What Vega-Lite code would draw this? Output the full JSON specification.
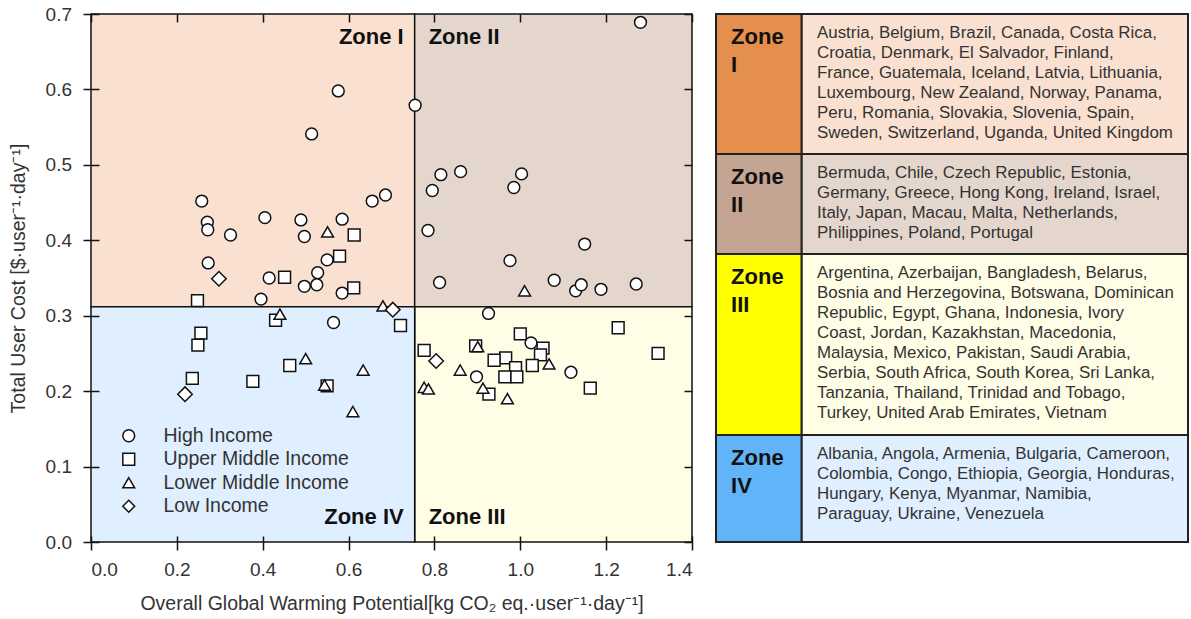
{
  "$schema": "https://vega.github.io/schema/vega-lite/v6.json",
  "background": "white",
  "padding": {"left": 8, "top": 5, "right": 3, "bottom": 5},
  "spacing": 22,
  "config": {"font": "Liberation Sans", "view": {"stroke": null}},
  "datasets": {
    "zones": [
      {"zone": "Zone I", "gwpMin": 0, "gwpMax": 0.754, "costMin": 0.312, "costMax": 0.7, "side": "left", "labelCost": 0.669, "rowStart": 0, "rowEnd": 7, "label": ["Zone", "I"],
       "countries": ["Austria, Belgium, Brazil, Canada, Costa Rica,", "Croatia, Denmark, El Salvador, Finland,", "France, Guatemala, Iceland, Latvia, Lithuania,", "Luxembourg, New Zealand, Norway, Panama,", "Peru, Romania, Slovakia, Slovenia, Spain,", "Sweden, Switzerland, Uganda, United Kingdom"]},
      {"zone": "Zone II", "gwpMin": 0.754, "gwpMax": 1.4, "costMin": 0.312, "costMax": 0.7, "side": "right", "labelCost": 0.669, "rowStart": 7, "rowEnd": 12, "label": ["Zone", "II"],
       "countries": ["Bermuda, Chile, Czech Republic, Estonia,", "Germany, Greece, Hong Kong, Ireland, Israel,", "Italy, Japan, Macau, Malta, Netherlands,", "Philippines, Poland, Portugal"]},
      {"zone": "Zone III", "gwpMin": 0.754, "gwpMax": 1.4, "costMin": 0, "costMax": 0.312, "side": "right", "labelCost": 0.033, "rowStart": 12, "rowEnd": 21.05, "label": ["Zone", "III"],
       "countries": ["Argentina, Azerbaijan, Bangladesh, Belarus,", "Bosnia and Herzegovina, Botswana, Dominican", "Republic, Egypt, Ghana, Indonesia, Ivory", "Coast, Jordan, Kazakhstan, Macedonia,", "Malaysia, Mexico, Pakistan, Saudi Arabia,", "Serbia, South Africa, South Korea, Sri Lanka,", "Tanzania, Thailand, Trinidad and Tobago,", "Turkey, United Arab Emirates, Vietnam"]},
      {"zone": "Zone IV", "gwpMin": 0, "gwpMax": 0.754, "costMin": 0, "costMax": 0.312, "side": "left", "labelCost": 0.033, "rowStart": 21.05, "rowEnd": 26.4, "label": ["Zone", "IV"],
       "countries": ["Albania, Angola, Armenia, Bulgaria, Cameroon,", "Colombia, Congo, Ethiopia, Georgia, Honduras,", "Hungary, Kenya, Myanmar, Namibia,", "Paraguay, Ukraine, Venezuela"]}
    ],
    "points": [
      {"income": "High Income", "gwp": 0.576, "cost": 0.598},
      {"income": "High Income", "gwp": 0.755, "cost": 0.579},
      {"income": "High Income", "gwp": 0.514, "cost": 0.541},
      {"income": "High Income", "gwp": 0.258, "cost": 0.452},
      {"income": "High Income", "gwp": 0.655, "cost": 0.452},
      {"income": "High Income", "gwp": 0.686, "cost": 0.460},
      {"income": "High Income", "gwp": 0.405, "cost": 0.430},
      {"income": "High Income", "gwp": 0.489, "cost": 0.427},
      {"income": "High Income", "gwp": 0.585, "cost": 0.428},
      {"income": "High Income", "gwp": 0.271, "cost": 0.424},
      {"income": "High Income", "gwp": 0.272, "cost": 0.414},
      {"income": "High Income", "gwp": 0.325, "cost": 0.407},
      {"income": "High Income", "gwp": 0.497, "cost": 0.405},
      {"income": "High Income", "gwp": 0.273, "cost": 0.370},
      {"income": "High Income", "gwp": 0.550, "cost": 0.374},
      {"income": "High Income", "gwp": 0.528, "cost": 0.357},
      {"income": "High Income", "gwp": 0.415, "cost": 0.350},
      {"income": "High Income", "gwp": 0.497, "cost": 0.339},
      {"income": "High Income", "gwp": 0.526, "cost": 0.341},
      {"income": "High Income", "gwp": 0.585, "cost": 0.330},
      {"income": "High Income", "gwp": 0.396, "cost": 0.322},
      {"income": "High Income", "gwp": 0.565, "cost": 0.291},
      {"income": "High Income", "gwp": 1.280, "cost": 0.689},
      {"income": "High Income", "gwp": 0.815, "cost": 0.487},
      {"income": "High Income", "gwp": 0.861, "cost": 0.491},
      {"income": "High Income", "gwp": 0.795, "cost": 0.466},
      {"income": "High Income", "gwp": 1.003, "cost": 0.488},
      {"income": "High Income", "gwp": 0.985, "cost": 0.470},
      {"income": "High Income", "gwp": 0.785, "cost": 0.413},
      {"income": "High Income", "gwp": 1.150, "cost": 0.395},
      {"income": "High Income", "gwp": 0.976, "cost": 0.373},
      {"income": "High Income", "gwp": 0.812, "cost": 0.344},
      {"income": "High Income", "gwp": 1.079, "cost": 0.347},
      {"income": "High Income", "gwp": 1.129, "cost": 0.333},
      {"income": "High Income", "gwp": 1.142, "cost": 0.341},
      {"income": "High Income", "gwp": 1.188, "cost": 0.335},
      {"income": "High Income", "gwp": 1.270, "cost": 0.342},
      {"income": "High Income", "gwp": 0.926, "cost": 0.303},
      {"income": "High Income", "gwp": 1.025, "cost": 0.264},
      {"income": "High Income", "gwp": 0.898, "cost": 0.219},
      {"income": "High Income", "gwp": 1.118, "cost": 0.225},
      {"income": "Upper Middle Income", "gwp": 0.613, "cost": 0.407},
      {"income": "Upper Middle Income", "gwp": 0.579, "cost": 0.379},
      {"income": "Upper Middle Income", "gwp": 0.451, "cost": 0.351},
      {"income": "Upper Middle Income", "gwp": 0.612, "cost": 0.337},
      {"income": "Upper Middle Income", "gwp": 0.248, "cost": 0.320},
      {"income": "Upper Middle Income", "gwp": 0.430, "cost": 0.294},
      {"income": "Upper Middle Income", "gwp": 0.721, "cost": 0.287},
      {"income": "Upper Middle Income", "gwp": 0.256, "cost": 0.277},
      {"income": "Upper Middle Income", "gwp": 0.249, "cost": 0.261},
      {"income": "Upper Middle Income", "gwp": 0.463, "cost": 0.234},
      {"income": "Upper Middle Income", "gwp": 0.236, "cost": 0.217},
      {"income": "Upper Middle Income", "gwp": 0.377, "cost": 0.213},
      {"income": "Upper Middle Income", "gwp": 0.550, "cost": 0.207},
      {"income": "Upper Middle Income", "gwp": 1.228, "cost": 0.284},
      {"income": "Upper Middle Income", "gwp": 1.000, "cost": 0.276},
      {"income": "Upper Middle Income", "gwp": 1.053, "cost": 0.257},
      {"income": "Upper Middle Income", "gwp": 0.896, "cost": 0.260},
      {"income": "Upper Middle Income", "gwp": 1.321, "cost": 0.250},
      {"income": "Upper Middle Income", "gwp": 1.047, "cost": 0.248},
      {"income": "Upper Middle Income", "gwp": 0.776, "cost": 0.254},
      {"income": "Upper Middle Income", "gwp": 0.966, "cost": 0.244},
      {"income": "Upper Middle Income", "gwp": 0.939, "cost": 0.241},
      {"income": "Upper Middle Income", "gwp": 0.989, "cost": 0.231},
      {"income": "Upper Middle Income", "gwp": 1.028, "cost": 0.234},
      {"income": "Upper Middle Income", "gwp": 0.964, "cost": 0.219},
      {"income": "Upper Middle Income", "gwp": 0.992, "cost": 0.219},
      {"income": "Upper Middle Income", "gwp": 0.927, "cost": 0.196},
      {"income": "Upper Middle Income", "gwp": 1.163, "cost": 0.204},
      {"income": "Lower Middle Income", "gwp": 0.551, "cost": 0.411},
      {"income": "Lower Middle Income", "gwp": 0.680, "cost": 0.313},
      {"income": "Lower Middle Income", "gwp": 0.440, "cost": 0.302},
      {"income": "Lower Middle Income", "gwp": 0.500, "cost": 0.243},
      {"income": "Lower Middle Income", "gwp": 0.634, "cost": 0.228},
      {"income": "Lower Middle Income", "gwp": 0.544, "cost": 0.208},
      {"income": "Lower Middle Income", "gwp": 0.610, "cost": 0.173},
      {"income": "Lower Middle Income", "gwp": 1.010, "cost": 0.333},
      {"income": "Lower Middle Income", "gwp": 0.901, "cost": 0.259},
      {"income": "Lower Middle Income", "gwp": 1.067, "cost": 0.236},
      {"income": "Lower Middle Income", "gwp": 0.860, "cost": 0.228},
      {"income": "Lower Middle Income", "gwp": 0.776, "cost": 0.205},
      {"income": "Lower Middle Income", "gwp": 0.786, "cost": 0.203},
      {"income": "Lower Middle Income", "gwp": 0.913, "cost": 0.204},
      {"income": "Lower Middle Income", "gwp": 0.970, "cost": 0.190},
      {"income": "Low Income", "gwp": 0.298, "cost": 0.349},
      {"income": "Low Income", "gwp": 0.703, "cost": 0.308},
      {"income": "Low Income", "gwp": 0.219, "cost": 0.196},
      {"income": "Low Income", "gwp": 0.804, "cost": 0.240}
    ]
  },
  "hconcat": [
    {
      "width": 601,
      "height": 528,
      "resolve": {"axis": {"x": "independent", "y": "independent"}},
      "layer": [
        {
          "data": {"name": "zones"},
          "mark": {"type": "rect", "stroke": "#111", "strokeWidth": 1.5},
          "encoding": {
            "x": {"field": "gwpMin", "type": "quantitative", "scale": {"domain": [0, 1.4], "nice": false, "zero": false},
                  "axis": {"orient": "bottom", "values": [0, 0.2, 0.4, 0.6, 0.8, 1.0, 1.2, 1.4], "format": ".1f", "domain": false, "grid": false, "tickSize": 8, "tickColor": "#111", "tickWidth": 1.5, "labelFontSize": 19, "labelColor": "#333", "labelPadding": 10, "title": "Overall Global Warming Potential[kg CO₂ eq.·user⁻¹·day⁻¹]", "titleFontSize": 19.5, "titleFontWeight": "normal", "titleColor": "#333", "titlePadding": 15, "zindex": 1}},
            "x2": {"field": "gwpMax"},
            "y": {"field": "costMin", "type": "quantitative", "scale": {"domain": [0, 0.7], "nice": false, "zero": false},
                  "axis": {"orient": "left", "values": [0, 0.1, 0.2, 0.3, 0.4, 0.5, 0.6, 0.7], "format": ".1f", "domain": false, "grid": false, "tickSize": 8, "tickColor": "#111", "tickWidth": 1.5, "labelFontSize": 19, "labelColor": "#333", "labelPadding": 11.5, "title": "Total User Cost [$·user⁻¹·day⁻¹]", "titleFontSize": 19.5, "titleFontWeight": "normal", "titleColor": "#333", "titlePadding": 16.8, "zindex": 1}},
            "y2": {"field": "costMax"},
            "fill": {"field": "zone", "type": "nominal", "scale": {"domain": ["Zone I", "Zone II", "Zone III", "Zone IV"], "range": ["#F9E0D0", "#E5D6CD", "#FFFDE6", "#DFEFFF"]}, "legend": null}
          }
        },
        {
          "data": {"name": "zones"},
          "transform": [{"filter": "datum.side == 'left'"}],
          "mark": {"type": "text", "align": "right", "baseline": "middle", "dx": -11, "fontSize": 22, "fontWeight": "bold", "color": "#111"},
          "encoding": {
            "x": {"field": "gwpMax", "type": "quantitative", "axis": {"orient": "top", "values": [0, 0.2, 0.4, 0.6, 0.8, 1.0, 1.2, 1.4], "labels": false, "domain": false, "grid": false, "title": null, "tickSize": 8, "offset": -8, "tickColor": "#111", "tickWidth": 1.5, "zindex": 1}},
            "y": {"field": "labelCost", "type": "quantitative", "axis": {"orient": "right", "values": [0, 0.1, 0.2, 0.3, 0.4, 0.5, 0.6, 0.7], "labels": false, "domain": false, "grid": false, "title": null, "tickSize": 8, "offset": -8, "tickColor": "#111", "tickWidth": 1.5, "zindex": 1}},
            "text": {"field": "zone"}
          }
        },
        {
          "data": {"name": "zones"},
          "transform": [{"filter": "datum.side == 'right'"}],
          "mark": {"type": "text", "align": "left", "baseline": "middle", "dx": 14, "fontSize": 22, "fontWeight": "bold", "color": "#111"},
          "encoding": {
            "x": {"field": "gwpMin", "type": "quantitative", "axis": {"orient": "bottom", "values": [0, 0.2, 0.4, 0.6, 0.8, 1.0, 1.2, 1.4], "labels": false, "domain": false, "grid": false, "title": null, "tickSize": 6, "offset": -6, "tickColor": "#111", "tickWidth": 1.5, "zindex": 1}},
            "y": {"field": "labelCost", "type": "quantitative", "axis": {"orient": "left", "values": [0, 0.1, 0.2, 0.3, 0.4, 0.5, 0.6, 0.7], "labels": false, "domain": false, "grid": false, "title": null, "tickSize": 8, "offset": -8, "tickColor": "#111", "tickWidth": 1.5, "zindex": 1}},
            "text": {"field": "zone"}
          }
        },
        {
          "data": {"name": "points"},
          "transform": [{"filter": "datum.income != 'Low Income'"}],
          "mark": {"type": "point", "filled": true, "fill": "white", "stroke": "#111", "strokeWidth": 1.5, "size": 140, "opacity": 1},
          "encoding": {
            "x": {"field": "gwp", "type": "quantitative", "axis": null},
            "y": {"field": "cost", "type": "quantitative", "axis": null},
            "shape": {"field": "income", "type": "nominal",
                      "scale": {"domain": ["High Income", "Upper Middle Income", "Lower Middle Income", "Low Income"], "range": ["circle", "square", "triangle-up", "diamond"]},
                      "legend": {"orient": "none", "legendX": 28, "legendY": 412, "title": null, "padding": 0, "labelFontSize": 19.5, "labelColor": "#333", "labelLimit": 0, "labelOffset": 25, "rowPadding": 2.5, "symbolSize": 140,
                                 "encode": {"symbols": {"update": {"fill": {"value": "white"}, "stroke": {"value": "#111"}, "strokeWidth": {"value": 1.5}, "opacity": {"value": 1}, "size": {"signal": "datum.value === 'Low Income' ? 210 : 140"}}}}}}
          }
        },
        {
          "data": {"name": "points"},
          "transform": [{"filter": "datum.income == 'Low Income'"}],
          "mark": {"type": "point", "filled": true, "fill": "white", "stroke": "#111", "strokeWidth": 1.5, "size": 210, "opacity": 1},
          "encoding": {
            "x": {"field": "gwp", "type": "quantitative", "axis": null},
            "y": {"field": "cost", "type": "quantitative", "axis": null},
            "shape": {"field": "income", "type": "nominal",
                      "scale": {"domain": ["High Income", "Upper Middle Income", "Lower Middle Income", "Low Income"], "range": ["circle", "square", "triangle-up", "diamond"]},
                      "legend": {"orient": "none", "legendX": 28, "legendY": 412, "title": null, "padding": 0, "labelFontSize": 19.5, "labelColor": "#333", "labelLimit": 0, "labelOffset": 25, "rowPadding": 2.5, "symbolSize": 140,
                                 "encode": {"symbols": {"update": {"fill": {"value": "white"}, "stroke": {"value": "#111"}, "strokeWidth": {"value": 1.5}, "opacity": {"value": 1}, "size": {"signal": "datum.value === 'Low Income' ? 210 : 140"}}}}}}
          }
        }
      ]
    },
    {
      "width": 472,
      "height": 528,
      "data": {"name": "zones"},
      "layer": [
        {
          "mark": {"type": "rect", "stroke": "#222", "strokeWidth": 2},
          "encoding": {
            "x": {"datum": 0, "type": "quantitative", "scale": {"domain": [0, 1], "nice": false}, "axis": null},
            "x2": {"datum": 0.1816},
            "y": {"field": "rowStart", "type": "quantitative", "scale": {"domain": [0, 26.4], "nice": false, "zero": false, "reverse": true}, "axis": null},
            "y2": {"field": "rowEnd"},
            "color": {"field": "zone", "type": "nominal", "scale": {"domain": ["Zone I", "Zone II", "Zone III", "Zone IV"], "range": ["#E48F4D", "#C4A593", "#FFFF00", "#62B4F8"]}, "legend": null}
          }
        },
        {
          "mark": {"type": "rect", "stroke": "#222", "strokeWidth": 2},
          "encoding": {
            "x": {"datum": 0.1816, "type": "quantitative"},
            "x2": {"datum": 1},
            "y": {"field": "rowStart", "type": "quantitative"},
            "y2": {"field": "rowEnd"},
            "fill": {"field": "zone", "type": "nominal", "scale": {"domain": ["Zone I", "Zone II", "Zone III", "Zone IV"], "range": ["#F9E0D0", "#E5D6CD", "#FFFDE6", "#DFEFFF"]}, "legend": null}
          }
        },
        {
          "mark": {"type": "text", "align": "left", "baseline": "alphabetic", "dy": 29.6, "lineHeight": 28, "fontSize": 22, "fontWeight": "bold", "color": "#111"},
          "encoding": {
            "x": {"datum": 0.032, "type": "quantitative"},
            "y": {"field": "rowStart", "type": "quantitative"},
            "text": {"field": "label"}
          }
        },
        {
          "mark": {"type": "text", "align": "left", "baseline": "alphabetic", "dy": 24, "lineHeight": 20, "fontSize": 16.9, "color": "#333"},
          "encoding": {
            "x": {"datum": 0.214, "type": "quantitative"},
            "y": {"field": "rowStart", "type": "quantitative"},
            "text": {"field": "countries"}
          }
        }
      ]
    }
  ]
}
